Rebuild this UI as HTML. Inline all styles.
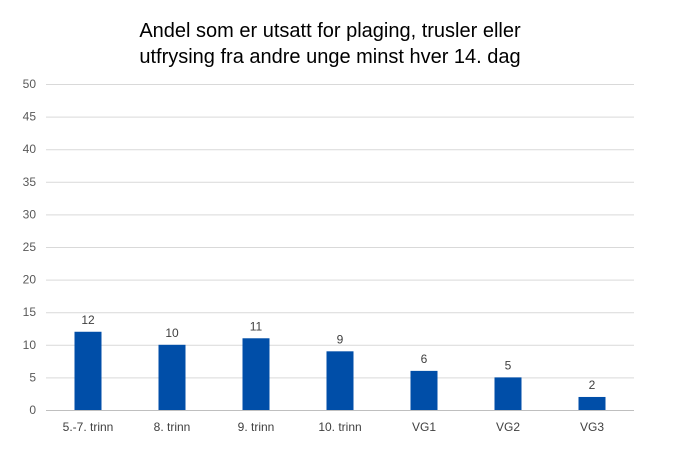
<!DOCTYPE html>
<html><head><meta charset="utf-8"><style>
body{margin:0;background:#fff;}
svg{display:block;font-family:"Liberation Sans",Arial,sans-serif;}
</style></head><body>
<svg id="chart" width="695" height="459" viewBox="0 0 695 459">
<rect width="695" height="459" fill="#fff"/>
<text x="330" y="37" font-size="20" text-anchor="middle" fill="#000">Andel som er utsatt for plaging, trusler eller</text>
<text x="330" y="63" font-size="20" text-anchor="middle" fill="#000">utfrysing fra andre unge minst hver 14. dag</text>
<g id="grid"></g>
<g id="yticks"></g>
<g id="bars"></g>
<g id="xlabels"></g>
</svg>
<script>
const categories = ["5.-7. trinn","8. trinn","9. trinn","10. trinn","VG1","VG2","VG3"];
const values = [12,10,11,9,6,5,2];
const yTicks = [0,5,10,15,20,25,30,35,40,45,50];
const NS="http://www.w3.org/2000/svg";
const x0=46,x1=634,yTop=84,yBot=410,yMax=50;
function y(v){return yBot-(v/yMax)*(yBot-yTop);}
const band=(x1-x0)/categories.length;
function xc(i){return x0+band*(i+0.5);}
function mk(tag,attrs,parent){const e=document.createElementNS(NS,tag);for(const k in attrs)e.setAttribute(k,attrs[k]);parent.appendChild(e);return e;}
const grid=document.getElementById('grid'),yt=document.getElementById('yticks'),bars=document.getElementById('bars'),xl=document.getElementById('xlabels');
yTicks.forEach(t=>{
  const l=mk('line',{x1:x0,x2:x1,y1:y(t)+0.5,y2:y(t)+0.5,stroke:t===0?'#bfbfbf':'#d9d9d9','stroke-width':1},grid);
  
  
  const tx=mk('text',{x:36,y:y(t)+4,'font-size':12,'text-anchor':'end',fill:'#595959'},yt);
  tx.textContent=t;
  
  
});
const bw=27;
categories.forEach((c,i)=>{
  const v=values[i];
  const r=mk('rect',{x:xc(i)-bw/2,y:y(v),width:bw,height:yBot-y(v),fill:'#004ea8'},bars);
  
  
  const lb=mk('text',{x:xc(i),y:y(v)-8,'font-size':12,'text-anchor':'middle',fill:'#404040'},bars);
  lb.textContent=v;
  
  
  const cl=mk('text',{x:xc(i),y:431,'font-size':12,'text-anchor':'middle',fill:'#404040'},xl);
  cl.textContent=c;
  
  
});
</script>
</body></html>
